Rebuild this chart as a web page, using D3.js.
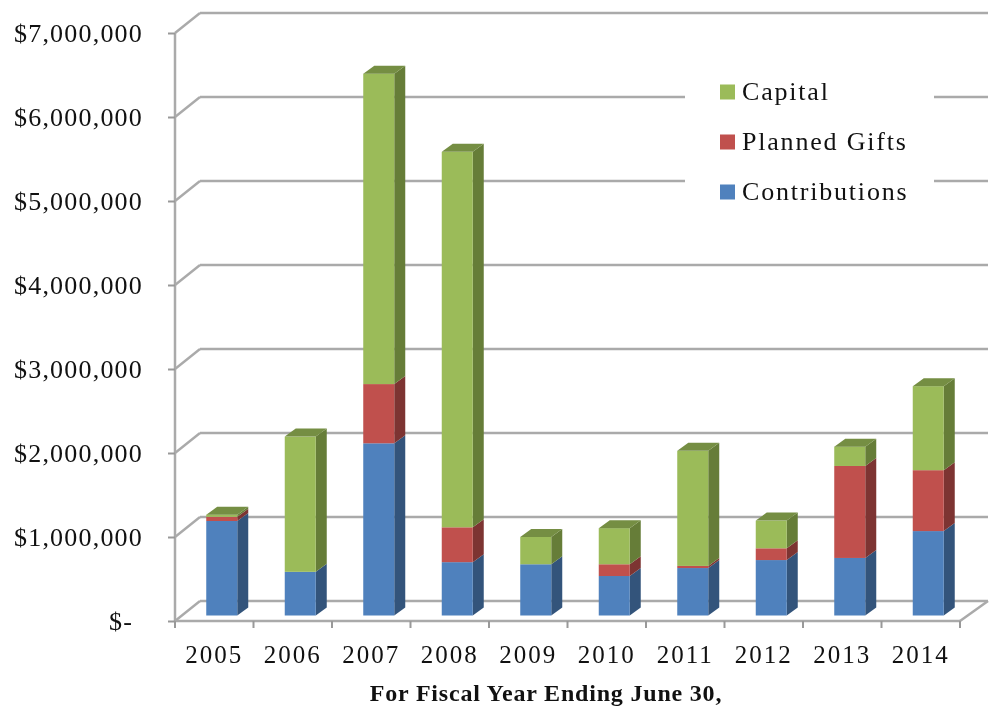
<!DOCTYPE html>
<html lang="en">
<head>
    <meta charset="UTF-8">
    <title>Giving by fiscal year</title>
    <script src="https://cdn.jsdelivr.net/npm/d3@7"></script>
    <style>
        html, body { margin: 0; padding: 0; background: #fff; }
        svg { display: block; filter: blur(0.5px); }
        text { font-family: "Liberation Serif", serif; fill: #111; }
    </style>
</head>
<body>
<script>
    const years = ["2005", "2006", "2007", "2008", "2009", "2010", "2011", "2012", "2013", "2014"];
    const contributions = [1125000, 520000, 2050000, 635000, 610000, 470000, 565000, 660000, 685000, 1005000];
    const plannedGifts = [50000, 0, 705000, 415000, 0, 140000, 25000, 140000, 1095000, 725000];
    const capital = [25000, 1610000, 3695000, 4470000, 325000, 430000, 1370000, 330000, 230000, 1000000];
    const yTicks = [0, 1000000, 2000000, 3000000, 4000000, 5000000, 6000000, 7000000];
    const yTickLabels = ["$-", "$1,000,000", "$2,000,000", "$3,000,000", "$4,000,000", "$5,000,000", "$6,000,000", "$7,000,000"];
    const seriesNames = ["Contributions", "Planned Gifts", "Capital"];
    const legendOrder = ["Capital", "Planned Gifts", "Contributions"];

    const width = 989, height = 706;
    const colours = d3.scaleOrdinal().domain(seriesNames).range(["#4f81bd", "#c0504d", "#9bbb59"]);
    const sideColours = d3.scaleOrdinal().domain(seriesNames).range(["#33547b", "#7d3432", "#667d38"]);
    const topColours = d3.scaleOrdinal().domain(seriesNames).range(["#3f6797", "#9a403e", "#758e43"]);

    const svg = d3.select("body").append("svg").attr("width", width).attr("height", height);

    //Front plane of the axes, the back wall is the same thing shifted
    const x = d3.scaleBand().domain(years).range([175, 960]);
    const y = d3.scaleLinear().domain([0, 7000000]).range([621, 33]);
    const wallDx = 25, wallDy = -20;
    const gridColour = "#aaaaaa";

    //Back wall gridlines and the floor/wall diagonals
    const walls = svg.append("g").attr("stroke", gridColour).attr("stroke-width", 2.5).attr("fill", "none");
    yTicks.forEach((t) => {
        walls.append("line").attr("x1", x.range()[0] + wallDx).attr("x2", x.range()[1] + wallDx + 3)
            .attr("y1", y(t) + wallDy).attr("y2", y(t) + wallDy);
        walls.append("line").attr("x1", x.range()[0]).attr("x2", x.range()[0] + wallDx)
            .attr("y1", y(t)).attr("y2", y(t) + wallDy);
    });
    walls.append("line").attr("x1", x.range()[1]).attr("x2", x.range()[1] + wallDx + 3)
        .attr("y1", y(0)).attr("y2", y(0) + wallDy);

    //Stacked bars, front face plus a sheared side and top
    const stacked = d3.stack().keys(seriesNames)(years.map((yr, i) => ({
        year: yr,
        "Contributions": contributions[i],
        "Planned Gifts": plannedGifts[i],
        "Capital": capital[i]
    })));
    const barWidth = 31, barShift = 7.5, barLift = 5.5, depthX = 11, depthY = 8;
    const barX = (yr) => x(yr) + x.bandwidth() / 2 + barShift - barWidth / 2;
    const barY = (v) => y(v) - barLift;

    const layers = svg.append("g").selectAll("g").data(stacked).enter().append("g");

    layers.selectAll("path.side")
        .data((s) => s.map((d) => ({ d, key: s.key })).filter((o) => o.d[1] > o.d[0]))
        .enter().append("path")
        .attr("class", "side")
        .attr("fill", (o) => sideColours(o.key))
        .attr("d", (o) => {
            const r = barX(o.d.data.year) + barWidth;
            return `M${r},${barY(o.d[1])}L${r + depthX},${barY(o.d[1]) - depthY}L${r + depthX},${barY(o.d[0]) - depthY}L${r},${barY(o.d[0])}Z`;
        });

    layers.selectAll("rect")
        .data((s) => s.map((d) => ({ d, key: s.key })).filter((o) => o.d[1] > o.d[0]))
        .enter().append("rect")
        .attr("x", (o) => barX(o.d.data.year))
        .attr("y", (o) => barY(o.d[1]))
        .attr("width", barWidth)
        .attr("height", (o) => barY(o.d[0]) - barY(o.d[1]))
        .attr("fill", (o) => colours(o.key));

    //Only the top series shows its lid
    svg.append("g").selectAll("path").data(stacked[2]).enter().append("path")
        .attr("fill", topColours("Capital"))
        .attr("d", (d) => {
            const l = barX(d.data.year), t = barY(d[1]);
            return `M${l},${t}L${l + depthX},${t - depthY}L${l + barWidth + depthX},${t - depthY}L${l + barWidth},${t}Z`;
        });

    //Axes
    const yAxis = d3.axisLeft(y).tickValues(yTicks).tickSize(7).tickPadding(25)
        .tickFormat((d, i) => yTickLabels[i]);
    const gy = svg.append("g").attr("transform", "translate(175,0)").call(yAxis);
    gy.selectAll("text").attr("font-size", 26).attr("letter-spacing", "1.2px")
        .attr("font-family", "Liberation Serif").attr("dy", "0.32em")
        .filter((d) => d === 0).attr("dx", -10);

    const xAxis = d3.axisBottom(x).tickSize(7).tickPadding(17).tickSizeOuter(7);
    const gx = svg.append("g").attr("transform", `translate(0,${y(0)})`).call(xAxis);
    gx.selectAll(".tick line")
        .attr("x1", -x.bandwidth() / 2).attr("x2", -x.bandwidth() / 2);
    gx.selectAll("text").attr("font-size", 25).attr("letter-spacing", "2px")
        .attr("font-family", "Liberation Serif");
    gx.append("line").attr("x1", x.range()[1]).attr("x2", x.range()[1]).attr("y1", 0).attr("y2", 7);

    [gy, gx].forEach((g) => {
        g.selectAll("path.domain").attr("stroke", gridColour).attr("stroke-width", 2.5);
        g.selectAll("line").attr("stroke", "#999").attr("stroke-width", 2);
    });
    gx.select("path.domain").attr("d", `M${x.range()[0]},0H${x.range()[1]}`);
    gy.select("path.domain").attr("d", `M0,${y(7000000)}V${y(0)}`);

    //X axis title
    svg.append("text").attr("x", 546).attr("y", 701).attr("text-anchor", "middle")
        .attr("font-size", 24).attr("font-weight", "bold").attr("letter-spacing", "0.8px")
        .text("For Fiscal Year Ending June 30,");

    //Legend sits on a white box that cuts the gridlines
    svg.append("rect").attr("x", 685).attr("y", 68).attr("width", 249).attr("height", 148).attr("fill", "#fff");
    const legendY = d3.scalePoint().domain(legendOrder).range([92, 192]);
    const legend = svg.append("g").selectAll("g").data(legendOrder).enter().append("g")
        .attr("transform", (d) => `translate(720,${legendY(d)})`);
    legend.append("rect").attr("y", -7.5).attr("width", 15).attr("height", 15).attr("fill", (d) => colours(d));
    legend.append("text").attr("x", 22).attr("dy", "0.32em")
        .attr("font-size", 26).attr("letter-spacing", "1.8px").text((d) => d);
</script>
</body>
</html>
